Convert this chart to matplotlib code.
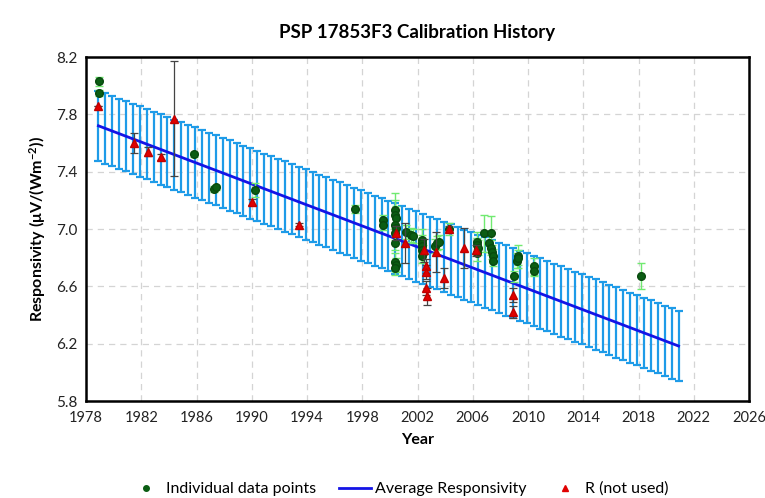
import numpy as np
import matplotlib
matplotlib.use("Agg")
import matplotlib.pyplot as plt
from matplotlib.lines import Line2D

plt.rcParams['font.family'] = ['Lato', 'DejaVu Sans']
plt.rcParams['mathtext.fontset'] = 'custom'
plt.rcParams['mathtext.rm'] = 'Lato'
plt.rcParams['mathtext.bf'] = 'Lato:bold'

# Individual data points (used)
g_year = [1978.95, 1978.95, 1985.8, 1987.3, 1987.4, 1990.2, 1997.45, 1999.5, 1999.5,
          2000.4, 2000.4, 2000.45, 2000.4, 2000.45, 2000.4, 2000.4, 2000.4, 2000.45, 2000.4,
          2001.2, 2001.5, 2001.7,
          2002.3, 2002.3, 2002.35, 2002.3, 2002.4, 2002.35,
          2003.3, 2003.4, 2003.55, 2004.3,
          2006.3, 2006.3, 2006.35, 2006.3, 2006.85, 2007.3, 2007.2, 2007.3, 2007.4, 2007.45, 2007.5,
          2009.0, 2009.2, 2009.3, 2009.3, 2010.4, 2010.4, 2018.2]
g_val = [8.03, 7.95, 7.52, 7.28, 7.29, 7.27, 7.14, 7.06, 7.03,
         7.13, 7.10, 7.08, 7.03, 7.01, 6.97, 6.90, 6.77, 6.75, 6.73,
         6.98, 6.96, 6.95,
         6.92, 6.90, 6.88, 6.85, 6.83, 6.81,
         6.88, 6.90, 6.91, 7.00,
         6.91, 6.89, 6.87, 6.83, 6.97, 6.97, 6.90, 6.87, 6.84, 6.81, 6.78,
         6.67, 6.78, 6.81, 6.80, 6.74, 6.71, 6.67]
g_err = [0.03, 0.02, 0.02, 0.02, 0.02, 0.05, 0.03, 0.04, 0.04,
         0.12, 0.10, 0.08, 0.06, 0.06, 0.05, 0.05, 0.06, 0.05, 0.05,
         0.05, 0.05, 0.05,
         0.08, 0.06, 0.06, 0.06, 0.06, 0.05,
         0.05, 0.05, 0.05, 0.04,
         0.07, 0.05, 0.05, 0.05, 0.13, 0.12, 0.06, 0.05, 0.05, 0.05, 0.04,
         0.04, 0.05, 0.08, 0.05, 0.06, 0.04, 0.09]

# R (not used)
r_year = [1978.85, 1981.5, 1982.5, 1983.4, 1984.4, 1990.0, 1993.4,
          2000.45, 2001.1, 2002.45, 2002.6, 2002.6, 2002.65, 2002.7,
          2003.35, 2003.9, 2004.3, 2005.35, 2006.2, 2008.95, 2008.95]
r_val = [7.86, 7.60, 7.54, 7.50, 7.77, 7.19, 7.03,
         6.97, 6.90, 6.85, 6.74, 6.70, 6.59, 6.53,
         6.84, 6.66, 7.00, 6.87, 6.85, 6.54, 6.42]
r_err = [0.0, 0.07, 0.03, 0.02, 0.40, 0.02, 0.01,
         0.05, 0.14, 0.08, 0.05, 0.05, 0.05, 0.06,
         0.14, 0.07, 0.02, 0.14, 0.04, 0.05, 0.04]

# Average responsivity trend
avg_start_year, avg_end_year = 1978.9, 2021.0
avg_start_val, avg_end_val = 7.72, 6.18
avg_step = 0.5
avg_unc = 0.245

x_ticks = [1978, 1982, 1986, 1990, 1994, 1998, 2002, 2006, 2010, 2014, 2018, 2022, 2026]
y_ticks = [5.8, 6.2, 6.6, 7.0, 7.4, 7.8, 8.2]

fig = plt.figure(figsize=(7.65, 4.98), dpi=100)
ax = fig.add_axes([86/765, 1-401/498, (749-86)/765, (401-57)/498])

avg_x = np.arange(avg_start_year, avg_end_year + 0.01, avg_step)
avg_y = np.interp(avg_x, [avg_start_year, avg_end_year], [avg_start_val, avg_end_val])

ax.errorbar(avg_x, avg_y, yerr=avg_unc, fmt='none', ecolor='#1e9be8',
            elinewidth=1.6, capsize=3, capthick=1.6, zorder=2)
ax.plot(avg_x, avg_y, color='#1414e6', lw=2, zorder=3)

ax.errorbar(g_year, g_val, yerr=g_err, fmt='none', ecolor='#70ea70',
            elinewidth=1, capsize=3, capthick=1, zorder=4)
ax.plot(g_year, g_val, 'o', color='#0b5d13', ms=5.5, mec='#084a0e', zorder=5)

ax.errorbar(r_year, r_val, yerr=r_err, fmt='none', ecolor='#444444',
            elinewidth=0.9, capsize=3, capthick=0.9, zorder=6)
ax.plot(r_year, r_val, '^', color='#e00000', ms=5.5, mec='#c00000', zorder=7)

ax.set_xlim(1978, 2026)
ax.set_ylim(5.8, 8.2)
ax.set_xticks(x_ticks)
ax.set_yticks(y_ticks)
ax.set_yticklabels([f"{v:.1f}" for v in y_ticks])
ax.grid(True, ls=(0, (5, 4)), color='#d4d4d4', lw=0.9)
ax.set_axisbelow(True)
for s in ax.spines.values():
    s.set_linewidth(1.8)
    s.set_color('black')
ax.tick_params(axis='y', length=0, labelsize=11, pad=6, colors='#222222')
ax.tick_params(axis='x', length=0, labelsize=10.5, pad=7, colors='#222222')

ax.set_title('PSP 17853F3 Calibration History', fontsize=13.5, fontweight='bold', pad=14)
ax.set_xlabel('Year', fontsize=11.5, fontweight='bold', labelpad=6)
ax.set_ylabel('Responsivity (μV/(Wm$\\mathbf{^{-2}}$))', fontsize=11.5, fontweight='bold', labelpad=6)

handles = [
    Line2D([], [], ls='none', marker='o', color='#0b5d13', ms=4),
    Line2D([], [], color='#1414e6', lw=2),
    Line2D([], [], ls='none', marker='^', color='#e00000', ms=4),
]
labels = ['Individual data points', 'Average Responsivity', 'R (not used)']
fig.legend(handles, labels, loc='center', bbox_to_anchor=(0.522, 0.018), ncol=3,
           frameon=False, fontsize=11.5, handlelength=2.0, handletextpad=0.25,
           columnspacing=1.4)

fig.savefig('out.png', dpi=100)
